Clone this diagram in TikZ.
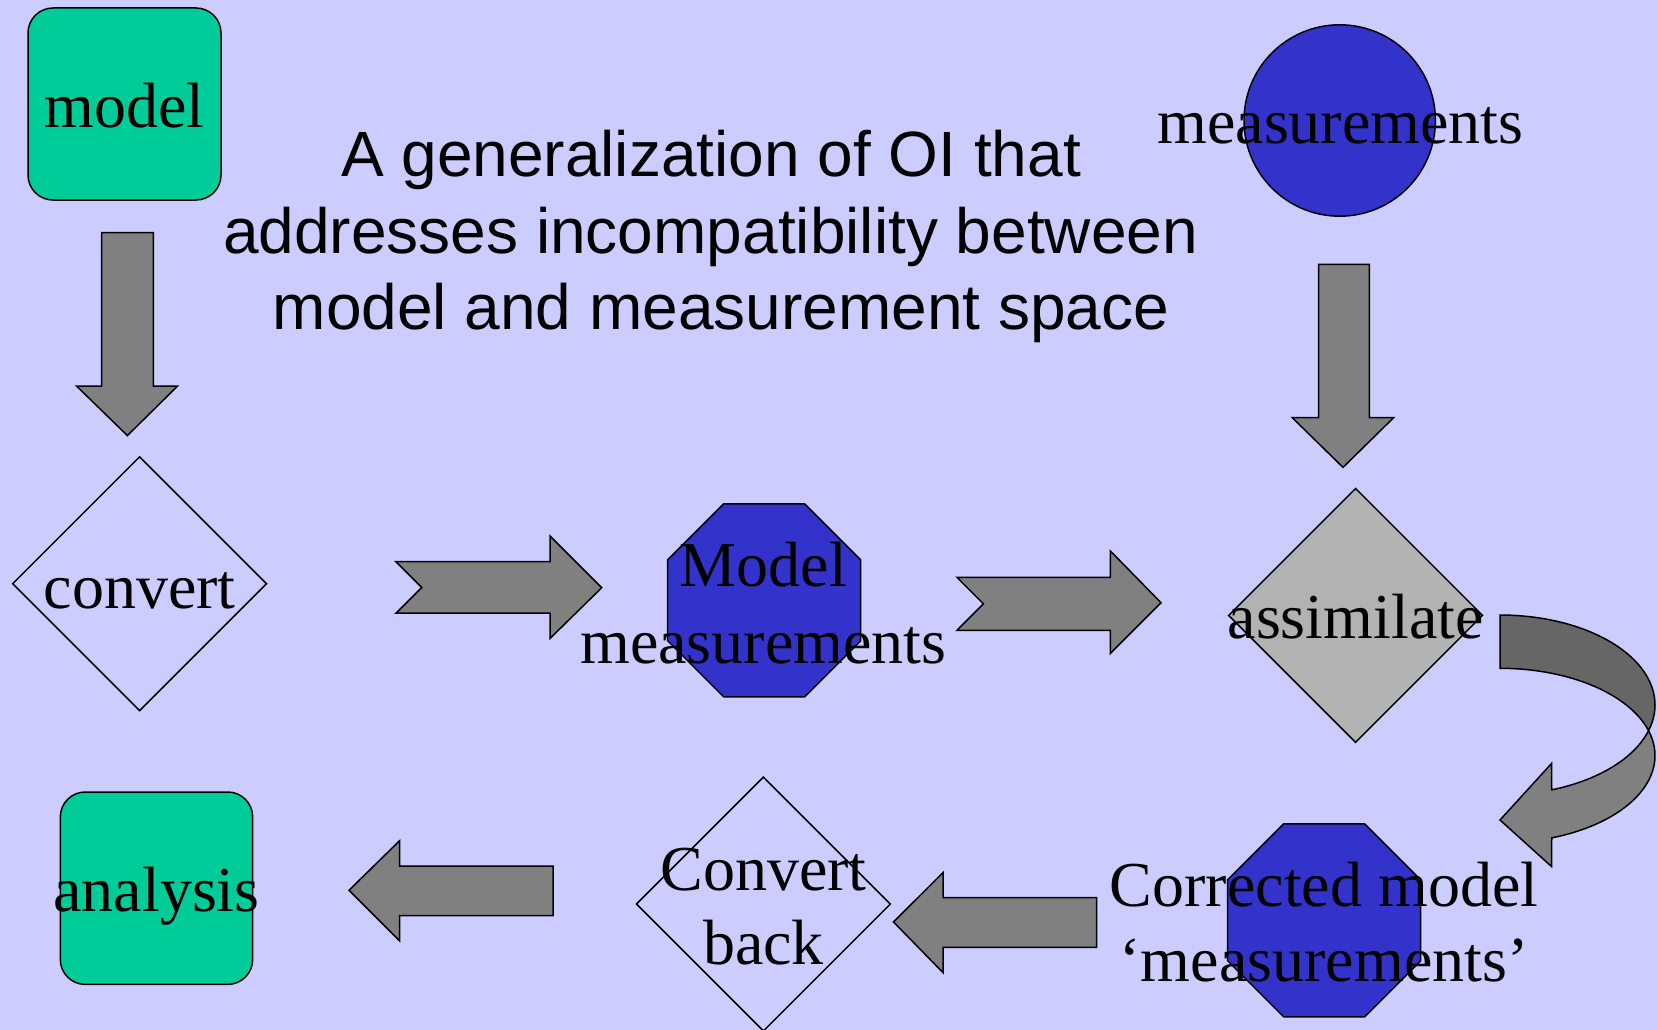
\documentclass[tikz,border=0pt]{standalone}
\usepackage{fontspec}
\setmainfont{Liberation Serif}
\newfontfamily\arialfont{Liberation Sans}
\definecolor{bgc}{HTML}{CCCCFF}
\definecolor{greenc}{HTML}{00CC99}
\definecolor{bluec}{HTML}{3333CC}
\definecolor{arrowgray}{HTML}{808080}
\definecolor{lightg}{HTML}{B2B2B2}
\definecolor{darkg}{HTML}{666666}
\begin{document}
\begin{tikzpicture}[x=1pt,y=-1pt,
  outl/.style={draw=black,line width=1.5pt,line join=miter},
  blockarrow/.style={outl,fill=arrowgray},
  lbl/.style={font=\fontsize{64}{75}\selectfont,anchor=base,inner sep=0pt},
  ttl/.style={font=\arialfont\fontsize{64}{77}\selectfont,anchor=base,inner sep=0pt}]
\fill[bgc] (0,0) rectangle (1658,1030);
\useasboundingbox (0,0) rectangle (1658,1030);

% model box
\draw[outl,fill=greenc,rounded corners=25pt] (28,8) rectangle (221,200);
\node[lbl] (tmodel) at (124.5,128) {model};

% down arrow 1
\draw[blockarrow] (101.5,232.6) -- (153.3,232.6) -- (153.3,386) -- (177.6,386) -- (127.4,435.6) -- (76.5,386) -- (101.5,386) -- cycle;

% convert diamond
\draw[outl] (139.6,456.8) -- (266.5,583.7) -- (139.6,710.6) -- (12.7,583.7) -- cycle;
\node[lbl] (tconvert) at (139.6,608) {convert};

% title
\node[ttl] (title1) at (711,176.6) {A generalization of OI that};
\node[ttl] (title2) at (710.6,253.8) {addresses incompatibility between};
\node[ttl] (title3) at (721,329.9) {model and measurement space};

% measurements circle
\draw[outl,fill=bluec] (1339.7,120.5) circle[radius=95.7];
\node[lbl] (tmeas) at (1340.5,143.8) {measurements};

% down arrow 2
\draw[blockarrow] (1318.6,264.4) -- (1369.3,264.4) -- (1369.3,417.7) -- (1393.6,417.7) -- (1343,467.4) -- (1292.3,417.7) -- (1318.6,417.7) -- cycle;

% assimilate diamond
\draw[outl,fill=lightg] (1355.6,488.5) -- (1482.5,615.4) -- (1355.6,742.3) -- (1228.7,615.4) -- cycle;
\node[lbl] (tassim) at (1355.6,638.7) {assimilate};

% notched arrow 1
\draw[blockarrow] (396,561.7) -- (550,561.7) -- (550,536) -- (601.7,587.7) -- (550,638.5) -- (550,613.2) -- (396,613.2) -- (421.7,587.5) -- cycle;

% model measurements octagon
\draw[outl,fill=bluec] (723.7,503.8) -- (804.7,503.8) -- (860.7,559.8) -- (860.7,640.8) -- (804.7,696.8) -- (723.7,696.8) -- (667.7,640.8) -- (667.7,559.8) -- cycle;
\node[lbl] (tmodel2) at (763.4,586.9) {Model};
\node[lbl] (tmeas2) at (763.4,663) {measurements};

% notched arrow 2
\draw[blockarrow] (957,577.3) -- (1110.3,577.3) -- (1110.3,550.9) -- (1161,602.7) -- (1110.3,653.5) -- (1110.3,630.3) -- (957,630.3) -- (983.4,603.8) -- cycle;

% curved arrow
\draw[outl,fill=darkg] plot[domain=-90:16.6,samples=40,variable=\t] ({1500+155*cos(\t)},{705+90*sin(\t)})
  -- plot[domain=-16.6:-90,samples=40,variable=\t] ({1500+155*cos(\t)},{755.6+87.3*sin(\t)}) -- cycle;
\draw[outl,fill=arrowgray] plot[domain=16.6:70.5,samples=30,variable=\t] ({1500+155*cos(\t)},{705+90*sin(\t)})
  -- (1551.7,763.3) -- (1500,820) -- (1551.7,866.7)
  -- plot[domain=70.5:-16.6,samples=40,variable=\t] ({1500+155*cos(\t)},{755.6+87.3*sin(\t)}) -- cycle;

% corrected octagon
\draw[outl,fill=bluec] (1283.7,823.8) -- (1364.7,823.8) -- (1420.7,879.8) -- (1420.7,960.8) -- (1364.7,1016.8) -- (1283.7,1016.8) -- (1227.7,960.8) -- (1227.7,879.8) -- cycle;
\node[lbl] (tcorr1) at (1324,906.2) {Corrected model};
\node[lbl] (tcorr2) at (1324,981.3) {‘measurements’};

% left arrow 2
\draw[blockarrow] (1096.5,897.7) -- (1096.5,947.4) -- (943.2,947.4) -- (943.2,972.8) -- (893.5,922) -- (943.2,872.4) -- (943.2,897.7) -- cycle;

% convert back diamond
\draw[outl] (763.4,777.1) -- (890.3,904) -- (763.4,1030.9) -- (636.5,904) -- cycle;
\node[lbl] (tcb1) at (763.4,890.3) {Convert};
\node[lbl] (tcb2) at (763.4,964.3) {back};

% left arrow 1
\draw[blockarrow] (553,866) -- (553,915.7) -- (399.7,915.7) -- (399.7,941) -- (349,890.3) -- (399.7,840.6) -- (399.7,866) -- cycle;

% analysis box
\draw[outl,fill=greenc,rounded corners=25pt] (60.3,792) rectangle (252.7,984.4);
\node[lbl] (tanal) at (156.5,911.5) {analysis};
\end{tikzpicture}
\end{document}
